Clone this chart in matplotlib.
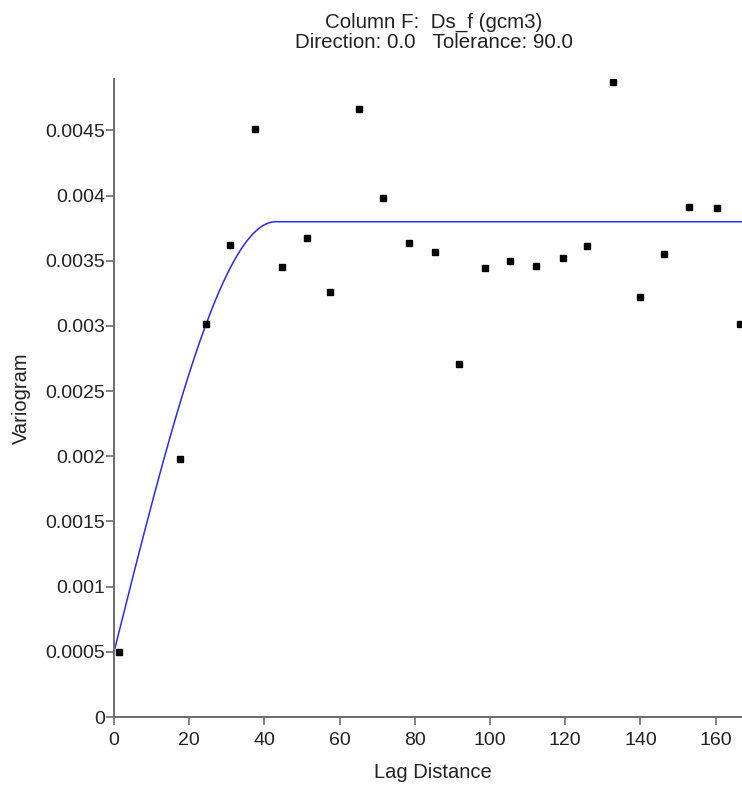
import numpy as np
import matplotlib
matplotlib.use("Agg")
import matplotlib.pyplot as plt

# experimental variogram points (lag, semivariance)
lag = [1.3, 17.6, 24.5, 30.9, 37.4, 44.6, 51.3, 57.5, 65.2, 71.5, 78.5, 85.4,
       91.8, 98.7, 105.4, 112.1, 119.3, 125.8, 132.6, 140.0, 146.2, 153.0,
       160.4, 166.5]
gamma = [0.000500, 0.001983, 0.003019, 0.003624, 0.004508, 0.003453, 0.003675,
         0.003260, 0.004668, 0.003982, 0.003639, 0.003570, 0.002705, 0.003443,
         0.003497, 0.003461, 0.003520, 0.003614, 0.004872, 0.003224, 0.003555,
         0.003913, 0.003905, 0.003019]

# spherical model fitted to the points
nugget = 0.0005
sill = 0.0038
model_range = 43.0

xticks = [0, 20, 40, 60, 80, 100, 120, 140, 160]
yticks = [0, 0.0005, 0.001, 0.0015, 0.002, 0.0025, 0.003, 0.0035, 0.004, 0.0045]
ytick_labels = ["0", "0.0005", "0.001", "0.0015", "0.002", "0.0025", "0.003",
                "0.0035", "0.004", "0.0045"]

plt.rcParams['font.family'] = ['Liberation Sans', 'DejaVu Sans']

fig = plt.figure(figsize=(7.42, 7.85), dpi=100)
ax = fig.add_axes([114 / 742, 68 / 785, 628 / 742, 638 / 785])

h = np.linspace(0, 167, 600)
hr = np.minimum(h / model_range, 1.0)
model = nugget + (sill - nugget) * (1.5 * hr - 0.5 * hr ** 3)
ax.plot(h, model, color='#2a2af5', lw=1.1, zorder=2)

ax.plot(lag, gamma, 's', color='black', markersize=4.3, zorder=3)

ax.set_xlim(0, 167)
ax.set_ylim(0, 0.004895)
ax.set_xticks(xticks)
ax.set_xticklabels([str(t) for t in xticks])
ax.set_yticks(yticks)
ax.set_yticklabels(ytick_labels)

for side in ['top', 'right']:
    ax.spines[side].set_visible(False)
for side in ['left', 'bottom']:
    ax.spines[side].set_color('#6e6e6e')
    ax.spines[side].set_linewidth(1.4)
ax.tick_params(axis='both', direction='out', length=5.5, width=1.2,
               color='#6e6e6e', labelsize=14, labelcolor='#222222')
ax.tick_params(axis='y', pad=1)
ax.tick_params(axis='x', pad=5)

ax.set_xlabel('Lag Distance', fontsize=14.5, color='#222222', va='center')
ax.xaxis.set_label_coords((433 - 114) / 628, -56 / 638)
ax.set_ylabel('Variogram', fontsize=14.5, color='#222222', va='center')
ax.yaxis.set_label_coords((21 - 114) / 628, 0.5)

fig.text(434 / 742, 1 - 22 / 785, 'Column F:  Ds_f (gcm3)', ha='center',
         va='center', fontsize=14.8, color='#222222')
fig.text(434 / 742, 1 - 42 / 785, 'Direction: 0.0   Tolerance: 90.0', ha='center',
         va='center', fontsize=14.8, color='#222222')

fig.savefig('out.png', dpi=100)
